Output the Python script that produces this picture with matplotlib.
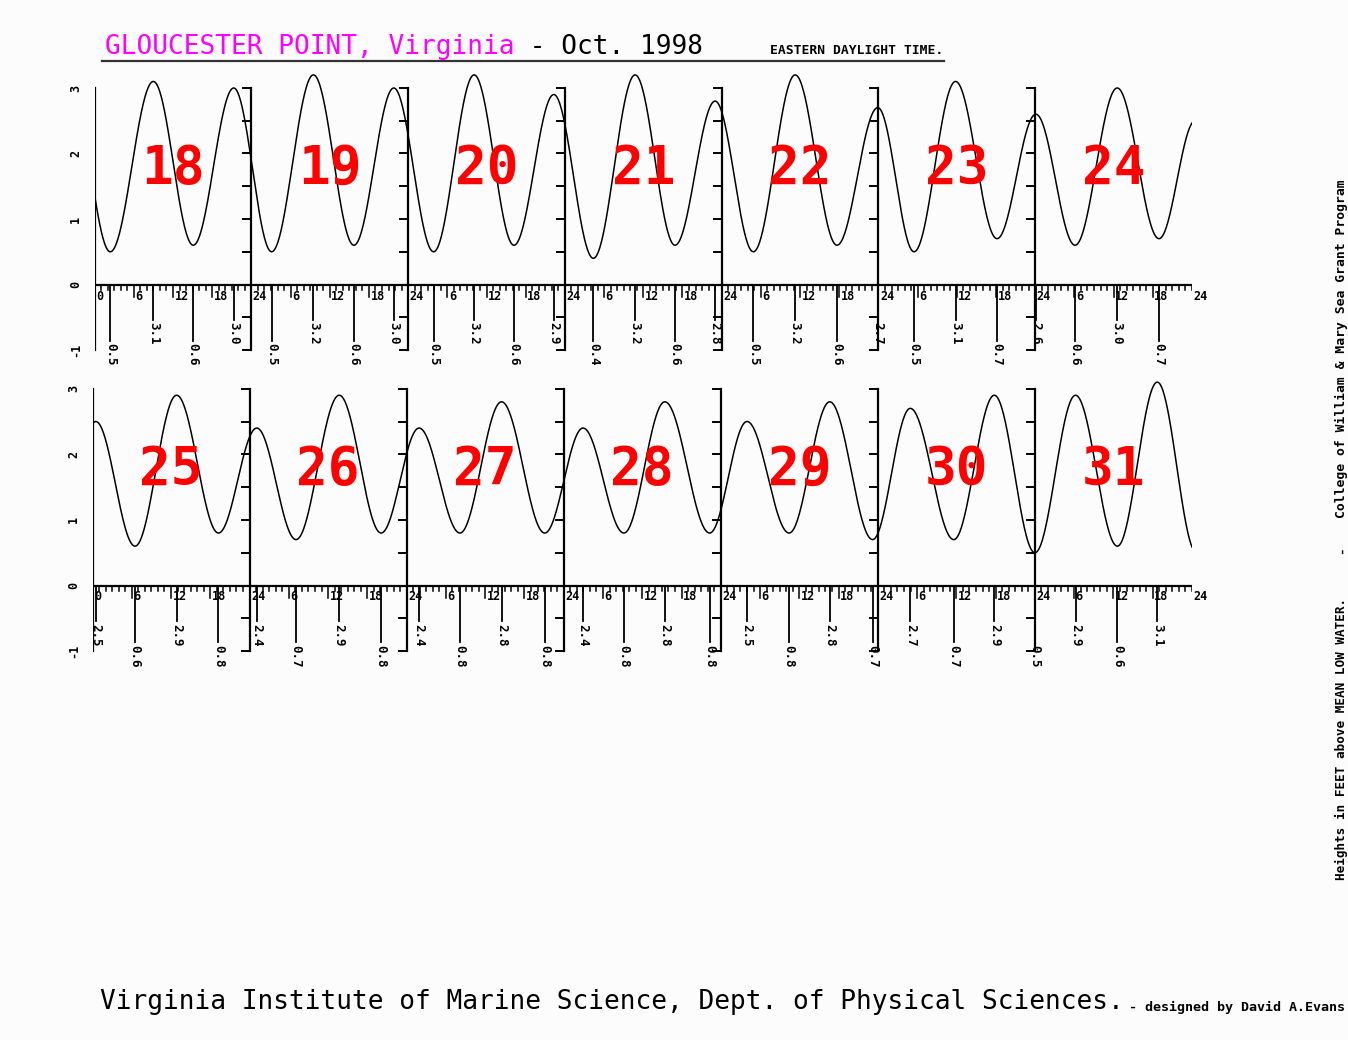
import numpy as np
import matplotlib.pyplot as plt

# ---- tide events (day of Oct, hour EDT, height ft) ----
# day 17 and 32 (= Nov 1) only keep the curve going at the edges
tide_day = [17,
            18, 18, 18, 18,
            19, 19, 19, 19,
            20, 20, 20, 20,
            21, 21, 21, 21,
            22, 22, 22, 22,
            23, 23, 23,
            24, 24, 24, 24,
            25, 25, 25, 25,
            26, 26, 26, 26,
            27, 27, 27, 27,
            28, 28, 28, 28,
            29, 29, 29, 29,
            30, 30, 30,
            31, 31, 31, 31,
            32]
tide_hour = [20.4,
             2.4, 9.0, 15.1, 21.3,
             3.1, 9.5, 15.7, 21.8,
             3.9, 10.1, 16.2, 22.3,
             4.35, 10.75, 16.85, 23.0,
             4.85, 11.25, 17.65, 23.9,
             5.45, 11.8, 18.15,
             0.1, 6.1, 12.55, 18.95,
             0.5, 6.5, 12.85, 19.25,
             1.1, 7.1, 13.7, 20.1,
             1.9, 8.15, 14.5, 21.1,
             2.95, 9.2, 15.45, 22.3,
             4.0, 10.45, 16.65, 23.2,
             4.95, 11.6, 17.8,
             0.0, 6.2, 12.6, 18.7,
             0.7]
tide_ft = [3.0,
           0.5, 3.1, 0.6, 3.0,
           0.5, 3.2, 0.6, 3.0,
           0.5, 3.2, 0.6, 2.9,
           0.4, 3.2, 0.6, 2.8,
           0.5, 3.2, 0.6, 2.7,
           0.5, 3.1, 0.7,
           2.6, 0.6, 3.0, 0.7,
           2.5, 0.6, 2.9, 0.8,
           2.4, 0.7, 2.9, 0.8,
           2.4, 0.8, 2.8, 0.8,
           2.4, 0.8, 2.8, 0.8,
           2.5, 0.8, 2.8, 0.7,
           2.7, 0.7, 2.9,
           0.5, 2.9, 0.6, 3.1,
           0.5]

row_days = [[18, 19, 20, 21, 22, 23, 24],
            [25, 26, 27, 28, 29, 30, 31]]
hour_labels = ["0", "6", "12", "18", "24"]
y_labels = ["-1", "0", "1", "2", "3"]

title_place = "GLOUCESTER POINT, Virginia"
title_date = " - Oct. 1998"
time_note = "EASTERN DAYLIGHT TIME."
footer = "Virginia Institute of Marine Science, Dept. of Physical Sciences."
credit = "- designed by David A.Evans"
side_a = "Heights in FEET above MEAN LOW WATER."
side_b = "College of William & Mary Sea Grant Program"

MONO = "DejaVu Sans Mono"
W, H = 1348, 1040
fig = plt.figure(figsize=(W / 100, H / 100), dpi=100)
fig.patch.set_facecolor("#fcfcfc")


def tide_curve(t, ev_t, ev_h):
    # cosine interpolation between successive high / low waters
    i = np.clip(np.searchsorted(ev_t, t, side="right") - 1, 0, len(ev_t) - 2)
    t1, t2 = ev_t[i], ev_t[i + 1]
    h1, h2 = ev_h[i], ev_h[i + 1]
    f = (t - t1) / (t2 - t1)
    return h1 + (h2 - h1) * (1 - np.cos(np.pi * f)) / 2


def row_axes(x0, x1, zero_px, ft_px, ylo=-1.7, yhi=3.4):
    top_px = zero_px - yhi * ft_px
    bot_px = zero_px - ylo * ft_px
    ax = fig.add_axes([x0 / W, 1 - bot_px / H, (x1 - x0) / W, (bot_px - top_px) / H])
    ax.set_xlim(0, 168)
    ax.set_ylim(ylo, yhi)
    ax.axis("off")
    return ax


ev_abs = np.array([(d - 18) * 24 + h for d, h in zip(tide_day, tide_hour)])
ev_ft = np.array(tide_ft)

rows = [(94.6, 1192, 284.5, 65.5), (92.5, 1192, 585.5, 65.6)]

for r, (x0, x1, zero_px, ft_px) in enumerate(rows):
    ax = row_axes(x0, x1, zero_px, ft_px)
    hx = (x1 - x0) / 168.0   # px per hour
    fy = ft_px               # px per foot
    off = r * 168

    # tide curve
    t = np.linspace(0, 168, 3000)
    ax.plot(t, tide_curve(t + off, ev_abs, ev_ft), color="black", lw=1.1)

    # time axis
    ax.plot([0, 168], [0, 0], color="black", lw=1.6)
    for h in range(169):
        ln = 12 if h % 6 == 0 and h % 24 != 0 else 5
        ax.plot([h, h], [0, -ln / fy], color="black", lw=1.1)
    for d in range(7):
        for k, lab in enumerate(hour_labels[:-1]):
            txt = lab if k > 0 or d == 0 else "24"
            ax.text(d * 24 + k * 6 + 1.5 / hx, -5 / fy, txt, fontsize=8.5,
                    family=MONO, weight="bold", ha="left", va="top")
    ax.text(168 + 1.5 / hx, -5 / fy, hour_labels[-1], fontsize=8.5,
            family=MONO, weight="bold", ha="left", va="top")

    # day spines with half-foot ticks
    for d in range(7):
        ax.plot([d * 24, d * 24], [-1, 3], color="black", lw=1.6)
        for y in np.arange(-1, 3.01, 0.5):
            ax.plot([d * 24 - 8 / hx, d * 24], [y, y], color="black", lw=1.4)
    for y, lab in zip(range(-1, 4), y_labels):
        ax.text(-19 / hx, y, lab, fontsize=8.5, family=MONO, weight="bold",
                rotation=90, ha="center", va="center")

    # high / low markers under the axis
    for d, h, v in zip(tide_day, tide_hour, tide_ft):
        x = (d - 18) * 24 + h - off
        if x < -0.01 or x > 168.01:
            continue
        high = v > 1.5
        end = -0.54 if high else -0.86
        ax.plot([x, x], [0, end], color="black", lw=1.3)
        ax.text(x, end - 0.04, f"{v:.1f}", fontsize=9, family=MONO, weight="bold",
                rotation=-90, ha="center", va="top")

    # day numbers
    for d, day in enumerate(row_days[r]):
        ax.text(d * 24 + 12, 1.76, str(day), fontsize=38, family=MONO,
                weight="bold", color="#ff0000", ha="center", va="center")

# ---- titles and notes ----
cw = 0.602 * 18.8 * 100 / 72
fig.text(105 / W, 1 - 47 / H, title_place, fontsize=18.8, family=MONO,
         color="#ff00ff", ha="left", va="center")
fig.text((105 + cw * len(title_place)) / W, 1 - 47 / H, title_date, fontsize=18.8,
         family=MONO, color="black", ha="left", va="center")
fig.add_artist(plt.Line2D([102 / W, 944 / W], [1 - 61 / H, 1 - 61 / H],
                          color="#333333", lw=1.6))
fig.text(770 / W, 1 - 51 / H, time_note, fontsize=9.4, family=MONO,
         weight="bold", ha="left", va="center")

fig.text(100 / W, 1 - 1002 / H, footer, fontsize=18.8, family=MONO,
         ha="left", va="center")
fig.text(1129 / W, 1 - 1007 / H, credit, fontsize=9.6, family=MONO,
         weight="bold", ha="left", va="center")

fig.text(1341 / W, 1 - 880 / H, side_a, fontsize=9.1, family=MONO, weight="bold",
         rotation=90, ha="center", va="bottom")
fig.text(1341 / W, 1 - 550 / H, "-", fontsize=9.1, family=MONO, weight="bold",
         rotation=90, ha="center", va="center")
fig.text(1341 / W, 1 - 518 / H, side_b, fontsize=9.4, family=MONO, weight="bold",
         rotation=90, ha="center", va="bottom")

fig.savefig("out.png", dpi=100, facecolor=fig.get_facecolor())
